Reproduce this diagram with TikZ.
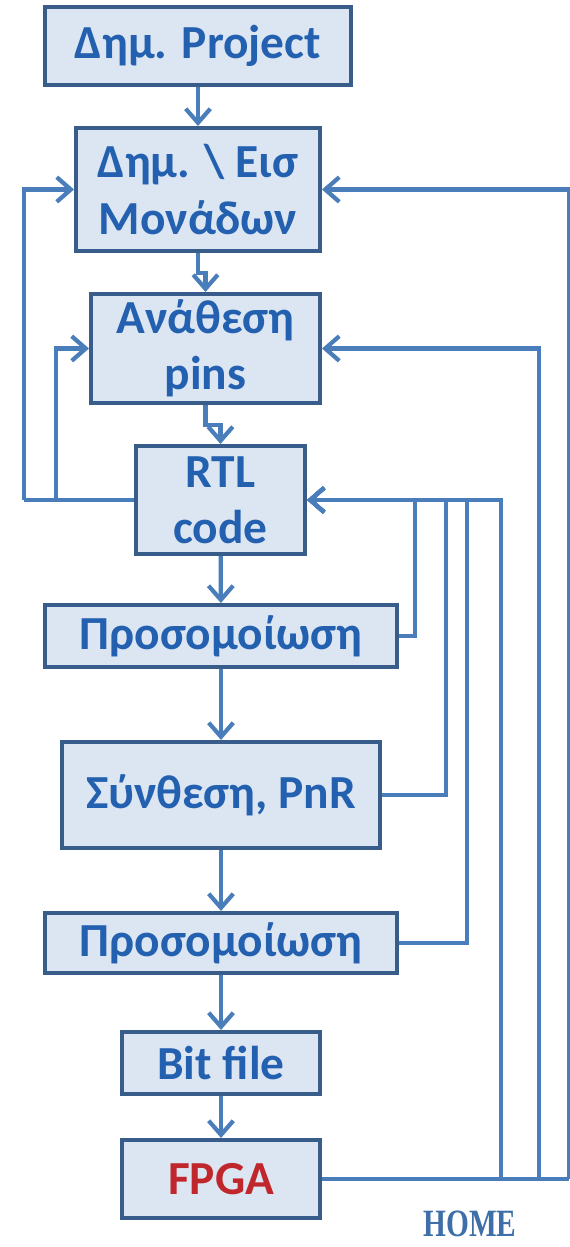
\documentclass[tikz,border=0pt]{standalone}
\usepackage{fontspec}
\setmainfont{Carlito}
\newfontfamily\homefont{Liberation Serif}
\usetikzlibrary{arrows.meta}
\definecolor{lineblue}{HTML}{4A7EBB}
\definecolor{boxedge}{HTML}{385D8A}
\definecolor{boxfill}{HTML}{DCE6F2}
\definecolor{txtblue}{HTML}{2460B0}
\definecolor{fpgared}{HTML}{C0272D}
\definecolor{homeblue}{HTML}{3F6FA8}

\begin{document}
\begin{tikzpicture}[x=0.02cm,y=-0.02cm,
 stage/.style={draw=boxedge,fill=boxfill,line width=2.3pt,inner sep=0pt,align=center,text=txtblue,font=\bfseries\fontsize{27}{32}\selectfont},
 flow/.style={draw=lineblue,line width=2.4pt,-{Straight Barb[length=8pt,width=14pt]}},
 fbline/.style={draw=lineblue,line width=2.4pt}]
 \useasboundingbox (0,0) rectangle (570,1247);
 \node[stage,minimum width=6.12cm,minimum height=1.56cm] (proj) at (198,46) {Δημ. Project};
 \node[stage,minimum width=4.88cm,minimum height=2.46cm] (units) at (198,189.5) {Δημ. \textbackslash{} Εισ\\Μονάδων};
 \node[stage,minimum width=4.58cm,minimum height=2.18cm] (pins) at (205.5,348.5) {Ανάθεση\\pins};
 \node[stage,minimum width=3.38cm,minimum height=2.16cm] (rtl) at (220.5,500) {RTL\\code};
 \node[stage,minimum width=7.04cm,minimum height=1.24cm] (sim1) at (221,636) {Προσομοίωση};
 \node[stage,minimum width=6.36cm,minimum height=2.12cm] (synth) at (221,795) {Σύνθεση, PnR};
 \node[stage,minimum width=7.04cm,minimum height=1.20cm] (sim2) at (221,943) {Προσομοίωση};
 \node[stage,minimum width=3.96cm,minimum height=1.24cm] (bit) at (221,1063) {Bit file};
 \node[stage,minimum width=3.96cm,minimum height=1.56cm,text=fpgared] (fpga) at (221,1179) {FPGA};
 \node[text=homeblue,inner sep=1pt,font=\homefont\bfseries\fontsize{22}{22}\selectfont] (home) at (470,1224) {\scalebox{0.76}[1]{HOME}};

 \coordinate (l1) at (24,500);
 \coordinate (l2) at (56,500);
 \coordinate (r1) at (415,500);
 \coordinate (r2) at (446,500);
 \coordinate (r3) at (467,500);
 \coordinate (r4) at (501,500);
 \coordinate (f1) at (501,1179);
 \coordinate (f2) at (539,1179);
 \coordinate (f3) at (569,1179);

 \draw[flow] (proj) -- (units);
 \draw[flow] (units.south) -- ++(0,20) -| (pins.north);
 \draw[flow] (pins.south) -- ++(0,20) -| (rtl.north);
 \draw[flow] (rtl) -- (sim1);
 \draw[flow] (sim1) -- (synth);
 \draw[flow] (synth) -- (sim2);
 \draw[flow] (sim2) -- (bit);
 \draw[flow] (bit) -- (fpga);

 \draw[fbline] (rtl.west) -- (l1);
 \draw[flow] (l1) |- (units.west);
 \draw[flow] (l2) |- (pins.west);

 \draw[flow] (sim1.east) -| (r1) -- (rtl.east);
 \draw[flow] (synth.east) -| (r2) -- (rtl.east);
 \draw[flow] (sim2.east) -| (r3) -- (rtl.east);
 \draw[fbline] (fpga.east) -- (f3);
 \draw[flow] (f1) -- (r4) -- (rtl.east);
 \draw[flow] (f2) |- (pins.east);
 \draw[flow] (f3) |- (units.east);
\end{tikzpicture}
\end{document}
